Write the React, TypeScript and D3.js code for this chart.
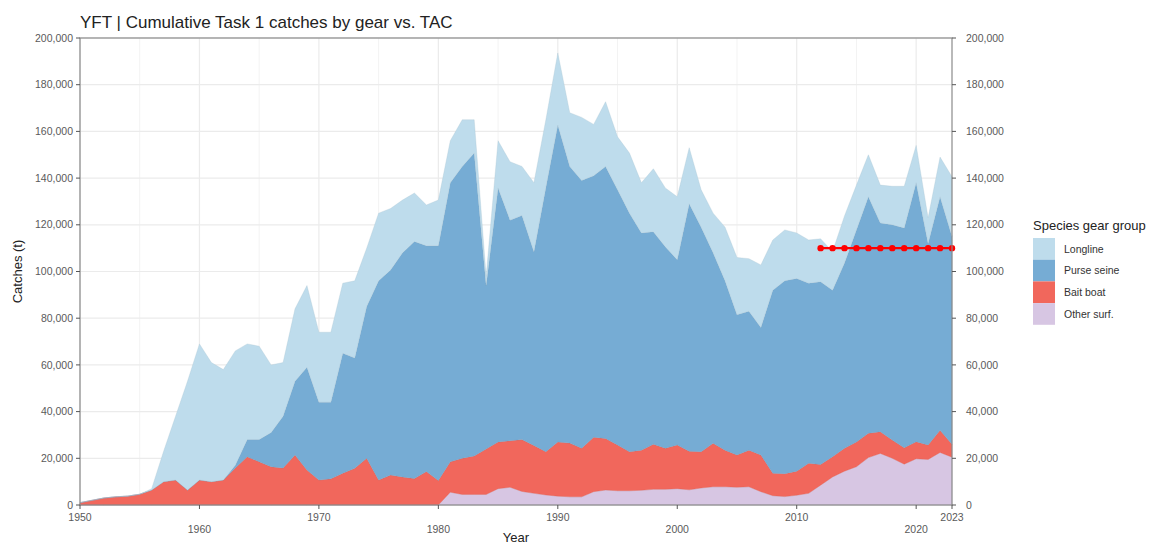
import React, { useEffect, useRef } from 'react'
import * as d3 from 'd3'

// YFT Task 1 catches (t) by gear group, 1950-2023
const years = d3.range(1950, 2024)

const otherSurf = [
  0, 0, 0, 0, 0, 0, 0, 0, 0, 0,
  0, 0, 0, 0, 0, 0, 0, 0, 0, 0,
  0, 0, 0, 0, 0, 0, 0, 0, 0, 0,
  0, 5500, 4500, 4500, 4500, 7000, 7600, 5800, 5000, 4300,
  3800, 3500, 3500, 5700, 6400, 6100, 6100, 6300, 6700, 6700,
  7000, 6500, 7300, 7800, 7800, 7600, 7800, 5700, 4000, 3600,
  4200, 5000, 8500, 12000, 14500, 16400, 20300, 22100, 20000, 17500,
  19800, 19500, 22500, 20500,
]

const baitBoat = [
  1000, 2000, 3000, 3500, 3800, 4600, 6400, 10000, 10700, 6400,
  10700, 10000, 10700, 15800, 20700, 18500, 16400, 15800, 21400, 15000,
  10700, 11200, 13600, 15700, 20000, 10700, 12800, 12000, 11300, 14300,
  10500, 13000, 15500, 16500, 19500, 20000, 19900, 22200, 20500, 18500,
  23200, 23000, 20800, 23300, 22100, 19600, 16700, 17200, 19300, 17600,
  18700, 16500, 15500, 18600, 15700, 13800, 15700, 15700, 9600, 9800,
  10300, 12900, 8800, 8700, 9800, 10600, 10400, 9300, 7800, 7000,
  7300, 6200, 9500, 5500,
]

const purseSeine = [
  0, 0, 0, 0, 0, 0, 0, 0, 0, 0,
  0, 0, 0, 1200, 7300, 9500, 14600, 22200, 31600, 44000,
  33300, 32800, 51400, 47300, 65000, 85300, 87800, 96000, 101500, 96700,
  100500, 119500, 125000, 129700, 70000, 108800, 94500, 96000, 83000, 113200,
  135700, 118500, 114700, 112000, 116500, 109300, 102200, 93000, 91000, 86300,
  79300, 106000, 96200, 81600, 72500, 60100, 59500, 54600, 78400, 82600,
  82500, 77100, 78300, 71300, 79300, 90800, 101300, 89400, 92200, 94100,
  110900, 86300, 100000, 89000,
]

const longline = [
  0, 0, 0, 0, 0, 0, 600, 13000, 27300, 46600,
  58300, 51000, 47300, 49000, 41000, 40000, 29000, 23000, 31000, 35000,
  30000, 30000, 30000, 33000, 25000, 29000, 26400, 22600, 20800, 17500,
  19600, 18000, 20000, 14300, 4000, 20200, 25000, 21000, 29500, 29000,
  30900, 23000, 27000, 22000, 27700, 22700, 25700, 21500, 27000, 25200,
  27000, 24000, 16000, 17000, 23000, 24500, 22500, 26800, 21500, 21800,
  19500, 18500, 18400, 16500, 20200, 19200, 18000, 16200, 16500, 17900,
  16000, 11000, 17000, 25600,
]

const tacYears = [2012, 2013, 2014, 2015, 2016, 2017, 2018, 2019, 2020, 2021, 2022, 2023]
const tacValue = 110000

const gearGroups = ['Other surf.', 'Bait boat', 'Purse seine', 'Longline']
const gearColors = ['#d7c6e3', '#f1675c', '#76acd4', '#bedcec']
const legendOrder = ['Longline', 'Purse seine', 'Bait boat', 'Other surf.']

const xTicks = [1950, 1960, 1970, 1980, 1990, 2000, 2010, 2020, 2023]
const yTicks = [0, 20000, 40000, 60000, 80000, 100000, 120000, 140000, 160000, 180000, 200000]

export default function App() {
  const svgRef = useRef<SVGSVGElement>(null)

  const width = 1163
  const height = 544
  const margin = { top: 38, right: 211, bottom: 39, left: 80 }

  useEffect(() => {
    const svg = d3.select(svgRef.current)
    svg.selectAll('*').remove()

    const x = d3.scaleLinear().domain([1950, 2023]).range([margin.left, width - margin.right])
    const y = d3.scaleLinear().domain([0, 200000]).range([height - margin.bottom, margin.top])
    const color = d3.scaleOrdinal<string, string>().domain(gearGroups).range(gearColors)
    const font = 'Liberation Sans, Arial, sans-serif'

    const rows = years.map((yr, i) => ({
      year: yr,
      'Other surf.': otherSurf[i],
      'Bait boat': baitBoat[i],
      'Purse seine': purseSeine[i],
      Longline: longline[i],
    }))

    // grid
    const grid = svg.append('g')
    grid.selectAll('line.vminor')
      .data(d3.range(1955, 2023, 10))
      .enter().append('line')
      .attr('x1', d => x(d)).attr('x2', d => x(d))
      .attr('y1', y(200000)).attr('y2', y(0))
      .attr('stroke', '#f3f3f3').attr('stroke-width', 1)
    grid.selectAll('line.vmajor')
      .data(d3.range(1950, 2024, 10))
      .enter().append('line')
      .attr('x1', d => x(d)).attr('x2', d => x(d))
      .attr('y1', y(200000)).attr('y2', y(0))
      .attr('stroke', '#ebebeb').attr('stroke-width', 1.2)
    grid.selectAll('line.h')
      .data(yTicks)
      .enter().append('line')
      .attr('x1', x(1950)).attr('x2', x(2023))
      .attr('y1', d => y(d)).attr('y2', d => y(d))
      .attr('stroke', '#ebebeb').attr('stroke-width', 1.2)

    // stacked areas
    const stack = d3.stack<any>().keys(gearGroups)
    const series = stack(rows)
    const area = d3.area<any>()
      .x(d => x(d.data.year))
      .y0(d => y(d[0]))
      .y1(d => y(d[1]))

    svg.append('g')
      .selectAll('path')
      .data(series)
      .enter().append('path')
      .attr('d', area)
      .attr('fill', d => color(d.key))
      .attr('stroke', d => d3.color(color(d.key))!.darker(0.35).toString())
      .attr('stroke-width', 0.5)
      .attr('stroke-opacity', 0.6)

    // TAC line
    const tacLine = d3.line<number>().x(d => x(d)).y(() => y(tacValue))
    svg.append('path')
      .datum(tacYears)
      .attr('d', tacLine)
      .attr('fill', 'none')
      .attr('stroke', '#ff0000')
      .attr('stroke-width', 2.2)
    svg.append('g')
      .selectAll('circle')
      .data(tacYears)
      .enter().append('circle')
      .attr('cx', d => x(d))
      .attr('cy', y(tacValue))
      .attr('r', 3.2)
      .attr('fill', '#ff0000')

    // frame
    svg.append('rect')
      .attr('x', x(1950)).attr('y', y(200000))
      .attr('width', x(2023) - x(1950)).attr('height', y(0) - y(200000))
      .attr('fill', 'none').attr('stroke', '#8a8a8a').attr('stroke-width', 1.2)

    // y axes
    const fmt = d3.format(',')
    const yAxisL = svg.append('g')
    yAxisL.selectAll('line')
      .data(yTicks).enter().append('line')
      .attr('x1', x(1950) - 4).attr('x2', x(1950))
      .attr('y1', d => y(d)).attr('y2', d => y(d))
      .attr('stroke', '#555')
    yAxisL.selectAll('text')
      .data(yTicks).enter().append('text')
      .attr('x', x(1950) - 7).attr('y', d => y(d))
      .attr('dy', '0.35em')
      .attr('text-anchor', 'end')
      .attr('font-family', font).attr('font-size', 10.5).attr('fill', '#5a5a5a')
      .text(d => fmt(d))

    const yAxisR = svg.append('g')
    yAxisR.selectAll('line')
      .data(yTicks).enter().append('line')
      .attr('x1', x(2023)).attr('x2', x(2023) + 4)
      .attr('y1', d => y(d)).attr('y2', d => y(d))
      .attr('stroke', '#555')
    yAxisR.selectAll('text')
      .data(yTicks).enter().append('text')
      .attr('x', x(2023) + 14).attr('y', d => y(d))
      .attr('dy', '0.35em')
      .attr('text-anchor', 'start')
      .attr('font-family', font).attr('font-size', 10.5).attr('fill', '#5a5a5a')
      .text(d => fmt(d))

    // x axis, staggered labels
    const xAxis = svg.append('g')
    xAxis.selectAll('line')
      .data(xTicks).enter().append('line')
      .attr('x1', d => x(d)).attr('x2', d => x(d))
      .attr('y1', y(0)).attr('y2', y(0) + 4)
      .attr('stroke', '#555')
    xAxis.selectAll('text')
      .data(xTicks).enter().append('text')
      .attr('x', d => x(d))
      .attr('y', (d, i) => (i % 2 === 0 ? 521 : 533))
      .attr('text-anchor', 'middle')
      .attr('font-family', font).attr('font-size', 10.5).attr('fill', '#5a5a5a')
      .text(d => d)

    // titles
    svg.append('text')
      .attr('x', x(1950)).attr('y', 28)
      .attr('font-family', font).attr('font-size', 17).attr('fill', '#222')
      .text('YFT | Cumulative Task 1 catches by gear vs. TAC')
    svg.append('text')
      .attr('x', (x(1950) + x(2023)) / 2).attr('y', 542)
      .attr('text-anchor', 'middle')
      .attr('font-family', font).attr('font-size', 13).attr('fill', '#222')
      .text('Year')
    svg.append('text')
      .attr('transform', `translate(22, ${(y(0) + y(200000)) / 2}) rotate(-90)`)
      .attr('text-anchor', 'middle')
      .attr('font-family', font).attr('font-size', 13).attr('fill', '#222')
      .text('Catches (t)')

    // legend
    const legend = svg.append('g').attr('transform', 'translate(1033, 0)')
    legend.append('text')
      .attr('x', 0).attr('y', 230)
      .attr('font-family', font).attr('font-size', 13).attr('fill', '#222')
      .text('Species gear group')
    const items = legend.selectAll('g.item')
      .data(legendOrder).enter().append('g')
      .attr('transform', (d, i) => `translate(0, ${238 + i * 21.7})`)
    items.append('rect')
      .attr('width', 22).attr('height', 21.7)
      .attr('fill', d => color(d))
    items.append('text')
      .attr('x', 31).attr('y', 11)
      .attr('dy', '0.35em')
      .attr('font-family', font).attr('font-size', 10.5).attr('fill', '#333')
      .text(d => d)
  }, [])

  return (
    <div style={{ position: 'absolute', left: 0, top: 0 }}>
      <svg ref={svgRef} width={width} height={height} style={{ display: 'block', background: '#fff' }} />
    </div>
  )
}
